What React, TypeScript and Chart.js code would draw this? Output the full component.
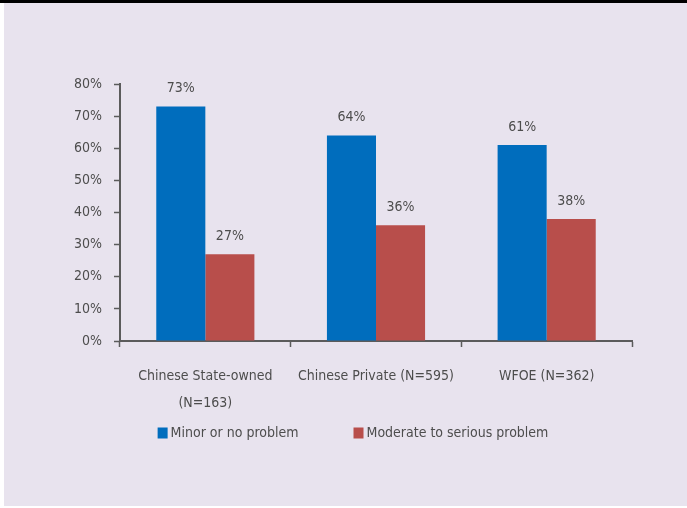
import React, { useEffect, useRef } from "react";
import { Chart, registerables } from "chart.js";

Chart.register(...registerables);

const categories: (string | string[])[] = [
  ["Chinese State-owned", "(N=163)"],
  "Chinese Private (N=595)",
  "WFOE (N=362)",
];
const minorValues = [73, 64, 61];
const moderateValues = [27, 36, 38];
const seriesNames = ["Minor or no problem", "Moderate to serious problem"];
const yTicks = [0, 10, 20, 30, 40, 50, 60, 70, 80];

const FONT = "'Liberation Sans Narrow', 'DejaVu Sans Condensed', 'Arial Narrow', sans-serif";
const FONT_SIZE = 14;
const TEXT = "#4d4d4d";
const AXIS = "#5b5b5b";
const BLUE = "#006dbd";
const RED = "#b84e4b";

const PAD = { top: 81, left: 66, right: 55, bottom: 73 };

const valueLabels = {
  id: "valueLabels",
  afterDatasetsDraw(chart: any) {
    const ctx = chart.ctx;
    ctx.save();
    ctx.font = `${FONT_SIZE}px ${FONT}`;
    ctx.fillStyle = TEXT;
    ctx.textAlign = "center";
    ctx.textBaseline = "bottom";
    chart.data.datasets.forEach((ds: any, di: number) => {
      const meta = chart.getDatasetMeta(di);
      meta.data.forEach((el: any, i: number) => {
        ctx.fillText(`${ds.data[i]}%`, el.x, el.y - 11);
      });
    });
    ctx.restore();
  },
};

// Legend drawn below the x axis: small square swatch, tight gap, wide spacing between items
const bottomLegend = {
  id: "bottomLegend",
  afterDraw(chart: any) {
    const ctx = chart.ctx;
    const xScale = chart.scales.x;
    ctx.save();
    ctx.font = `${FONT_SIZE}px ${FONT}`;
    ctx.textBaseline = "middle";
    ctx.textAlign = "left";
    const box = 10;
    const boxGap = 3;
    const itemGap = 55;
    const items = chart.data.datasets.map((ds: any) => ({
      text: ds.label,
      color: ds.backgroundColor,
      w: box + boxGap + ctx.measureText(ds.label).width,
    }));
    const total = items.reduce((s: number, it: any) => s + it.w, 0) + itemGap * (items.length - 1);
    const center = (PAD.left + chart.width - PAD.right) / 2 + 2;
    let x = center - total / 2;
    const y = xScale.top + 92;
    items.forEach((it: any) => {
      ctx.fillStyle = it.color;
      ctx.fillRect(x, y - 5.5, box, 11);
      ctx.fillStyle = TEXT;
      ctx.fillText(it.text, x + box + boxGap, y);
      x += it.w + itemGap;
    });
    ctx.restore();
  },
};

export default function App() {
  const ref = useRef<HTMLCanvasElement>(null);
  useEffect(() => {
    const chart = new Chart(ref.current!, {
      type: "bar",
      data: {
        labels: categories,
        datasets: [
          { label: seriesNames[0], data: minorValues, backgroundColor: BLUE },
          { label: seriesNames[1], data: moderateValues, backgroundColor: RED },
        ],
      },
      options: {
        animation: false,
        responsive: false,
        maintainAspectRatio: false,
        layout: { padding: PAD },
        datasets: { bar: { categoryPercentage: 0.575, barPercentage: 1 } },
        plugins: {
          tooltip: { enabled: false },
          legend: { display: false },
        },
        scales: {
          x: {
            grid: {
              display: true,
              drawOnChartArea: false,
              drawTicks: true,
              tickLength: 6,
              tickWidth: 1.5,
              tickColor: AXIS,
              offset: true,
            },
            border: { display: true, color: AXIS, width: 2 },
            ticks: {
              color: TEXT,
              font: { family: FONT, size: FONT_SIZE, lineHeight: 27 / FONT_SIZE },
              padding: 16,
              maxRotation: 0,
              autoSkip: false,
            },
          },
          y: {
            min: 0,
            max: 80,
            afterFit: (scale: any) => {
              scale.width = 50;
            },
            afterBuildTicks: (scale: any) => {
              scale.ticks = yTicks.map((v) => ({ value: v }));
            },
            grid: {
              display: true,
              drawOnChartArea: false,
              drawTicks: true,
              tickLength: 6,
              tickWidth: 1.5,
              tickColor: AXIS,
            },
            border: { display: true, color: AXIS, width: 2 },
            ticks: {
              color: TEXT,
              font: { family: FONT, size: FONT_SIZE },
              padding: 12,
              callback: (v: any) => `${v}%`,
            },
          },
        },
      },
      plugins: [valueLabels, bottomLegend],
    });
    return () => chart.destroy();
  }, []);

  return (
    <div
      style={{
        position: "fixed",
        left: 0,
        top: 0,
        width: 687,
        height: 508,
        background: "#ffffff",
      }}
    >
      <div style={{ position: "absolute", left: 0, top: 0, width: 687, height: 3, background: "#000" }} />
      <div
        style={{
          position: "absolute",
          left: 4,
          top: 3,
          width: 683,
          height: 503,
          background: "#e8e3ee",
        }}
      >
        <canvas ref={ref} width={683} height={503} style={{ display: "block" }} />
      </div>
    </div>
  );
}
